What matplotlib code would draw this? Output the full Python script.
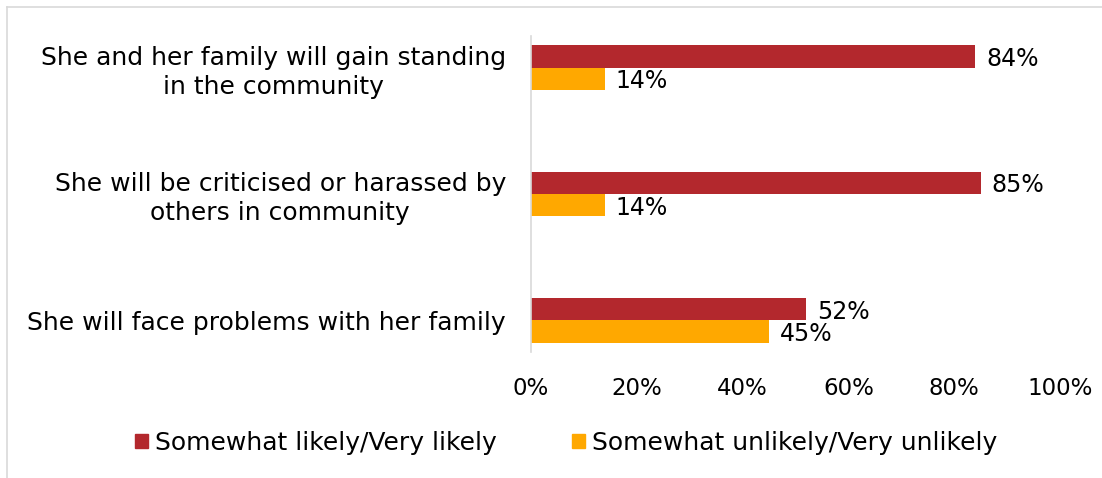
import matplotlib.pyplot as plt
from matplotlib.patches import Patch
from matplotlib.lines import Line2D

categories = [
    "She and her family will gain standing\nin the community",
    "She will be criticised or harassed by\nothers in community",
    "She will face problems with her family",
]
likely = [84, 85, 52]
unlikely = [14, 14, 45]
series_names = ["Somewhat likely/Very likely", "Somewhat unlikely/Very unlikely"]
xticks = [0, 20, 40, 60, 80, 100]

red = "#B3282D"
orange = "#FFA800"
plt.rcParams["font.family"] = "DejaVu Sans"

fig = plt.figure(figsize=(11.02, 4.78), dpi=100)
ax = fig.add_axes([531 / 1102, 1 - 352 / 478, (1060 - 531) / 1102, 316 / 478])

h = 0.178
ypos = list(range(len(categories)))
ax.barh([y - h / 2 for y in ypos], likely, height=h, color=red)
ax.barh([y + h / 2 for y in ypos], unlikely, height=h, color=orange)

for y, v in zip(ypos, likely):
    ax.text(v + 2.0, y - h / 2 + 0.02, f"{v}%", va="center", ha="left", fontsize=17)
for y, v in zip(ypos, unlikely):
    ax.text(v + 2.0, y + h / 2 + 0.02, f"{v}%", va="center", ha="left", fontsize=17)

ax.set_xlim(0, 100)
ax.set_ylim(2.25, -0.25)
ax.set_yticks(ypos)
ax.set_yticklabels(categories, fontsize=18, ha="right", multialignment="center",
                   linespacing=1.25)
ax.set_xticks(xticks)
ax.set_xticklabels([f"{t}%" for t in xticks], fontsize=16.5)
ax.tick_params(axis="both", length=0)
ax.tick_params(axis="y", pad=18)
ax.tick_params(axis="x", pad=18)
for s in ["top", "right", "bottom"]:
    ax.spines[s].set_visible(False)
ax.spines["left"].set_color("#D9D9D9")
ax.spines["left"].set_linewidth(1.2)

handles = [Patch(color=red), Patch(color=orange)]
fig.legend(handles, series_names, loc="center", bbox_to_anchor=(0.514, 1 - 443 / 478),
           ncol=2, frameon=False, fontsize=18, handlelength=0.5, handleheight=0.5,
           handletextpad=0.3, columnspacing=3.0)

# light frame at the top and left edges
fig.add_artist(Line2D([7 / 1102, 1], [1 - 7 / 478, 1 - 7 / 478], color="#D9D9D9", lw=1.2))
fig.add_artist(Line2D([7 / 1102, 7 / 1102], [1 - 7 / 478, 0], color="#D9D9D9", lw=1.2))

fig.savefig("out.png", dpi=100)
